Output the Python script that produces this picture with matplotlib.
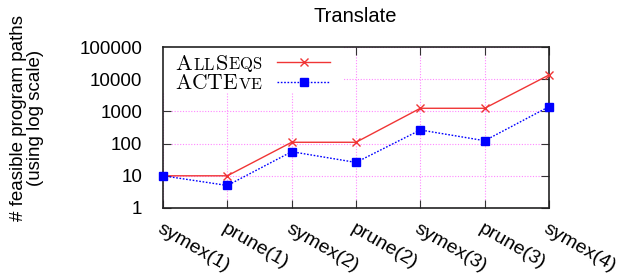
import matplotlib
matplotlib.use("Agg")
import matplotlib.pyplot as plt
from matplotlib.lines import Line2D
from matplotlib.patches import Rectangle
from matplotlib.ticker import LogLocator, NullFormatter, FixedLocator

categories = ["symex(1)", "prune(1)", "symex(2)", "prune(2)", "symex(3)", "prune(3)", "symex(4)"]
allseqs = [10, 10, 110, 110, 1250, 1250, 13500]
acteve = [10, 5, 56, 26, 265, 123, 1400]
yticks = [1, 10, 100, 1000, 10000, 100000]
ytick_labels = ["1", "10", "100", "1000", "10000", "100000"]

sans = ["Liberation Sans", "DejaVu Sans"]
plt.rcParams['font.family'] = sans
plt.rcParams['mathtext.fontset'] = 'cm'

W, H = 621, 277
fig = plt.figure(figsize=(W / 100, H / 100), dpi=100)
ax = fig.add_axes([163/W, 1-208/H, (549-163)/W, (208-47)/H])

x = list(range(len(categories)))
red = "#f03535"
blue = "#0000ff"
ax.plot(x, allseqs, color=red, lw=1.0, marker="x", ms=5.5, mew=1.0, zorder=3, clip_on=False)
ax.plot(x, acteve, color=blue, lw=1.0, ls=(0, (1.2, 1.2)), marker="s", ms=6, zorder=3, clip_on=False)

ax.set_yscale("log")
ax.set_ylim(1, 100000)
ax.set_xlim(0, len(categories) - 1)
ax.yaxis.set_major_locator(FixedLocator(yticks))
ax.set_yticklabels(ytick_labels, fontsize=13.5)
ax.yaxis.set_minor_locator(LogLocator(base=10, subs=range(2, 10)))
ax.yaxis.set_minor_formatter(NullFormatter())
ax.set_xticks(x)
ax.set_xticklabels(categories, fontsize=14, rotation=-30, ha="left", va="top", rotation_mode="anchor")
ax.tick_params(axis="both", which="both", direction="in", top=True, right=True, color="#333333")
ax.tick_params(axis="y", which="major", length=6, pad=15)
ax.tick_params(axis="y", which="minor", length=3)
ax.tick_params(axis="x", which="major", length=6, pad=9)
ax.grid(True, which="major", color="#ff88ff", ls=(0, (1, 1.5)), lw=0.8, zorder=0)
for s in ax.spines.values():
    s.set_linewidth(1.2)
    s.set_color("#222222")

fig.text(355/W, 1-16/H, "Translate", fontsize=14.5, ha="center", va="center")
fig.text(27/W, 1-118/H, "# feasible program paths\n(using log scale)", fontsize=13.5,
         rotation=90, ha="center", va="center", linespacing=0.95, multialignment="center")

# legend background
ax.add_patch(Rectangle((0, 0.714), 0.47, 0.286, transform=ax.transAxes, facecolor="white",
                       edgecolor="none", zorder=2))
# legend samples
ax.add_line(Line2D([0.295, 0.433], [0.907, 0.907], transform=ax.transAxes, color=red, lw=1.0, zorder=4))
ax.add_line(Line2D([0.364], [0.907], transform=ax.transAxes, color=red, marker="x", ms=5.5, mew=1.0, zorder=4))
ax.add_line(Line2D([0.295, 0.433], [0.783, 0.783], transform=ax.transAxes, color=blue, lw=1.0,
                   ls=(0, (1.2, 1.2)), zorder=4))
ax.add_line(Line2D([0.364], [0.783], transform=ax.transAxes, color=blue, marker="s", ms=6, zorder=4))

renderer = fig.canvas.get_renderer()

def smallcaps(parts, left_px, base_px_from_top, target_w):
    big, small = 16, 12
    def draw(scale):
        texts = []
        xpos = left_px
        for txt, isbig in parts:
            t = fig.text(xpos / W, 1 - base_px_from_top / H, r"$\mathrm{%s}$" % txt,
                         fontsize=(big if isbig else small) * scale,
                         ha="left", va="baseline", zorder=5)
            bb = t.get_window_extent(renderer=renderer)
            xpos += bb.width
            texts.append(t)
        return texts, xpos - left_px
    texts, w = draw(1.0)
    for t in texts:
        t.remove()
    draw(target_w / w)

smallcaps([("A", True), ("LL", False), ("S", True), ("EQS", False)], 175, 69.5, 88)
smallcaps([("ACTE", True), ("VE", False)], 175, 89.5, 88)

fig.savefig("out.png", dpi=100)
